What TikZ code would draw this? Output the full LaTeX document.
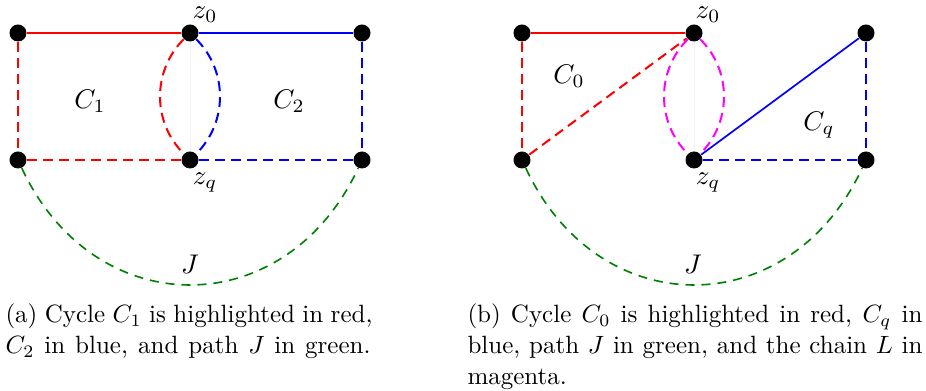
\RequirePackage{fix-cm}
\documentclass[tikz,border=0pt]{standalone}
\definecolor{chainmag}{RGB}{255,0,255}
\begin{document}
\begin{tikzpicture}[x=0.4pt,y=-0.4pt,
  dot/.style={circle,fill=black,inner sep=0pt,minimum size=6.8pt},
  lbl/.style={inner sep=0pt,font=\fontsize{10.8}{13}\selectfont},
  captext/.style={inner sep=0pt,anchor=base west,font=\fontsize{10}{12.4}\selectfont},
  dsh/.style={dash pattern=on 4pt off 2.4pt},
  gdsh/.style={dash pattern=on 3.6pt off 2.8pt},
  jarc/.style={green!50!black,gdsh,line width=0.65pt,out=-65,in=-115,looseness=1.31},
  faint/.style={draw=black!5,line width=0.4pt}]
\useasboundingbox (0,0) rectangle (926,391);
% ---------- left figure ----------
\node[dot] (la) at (18,33) {};
\node[dot] (lz0) at (190,33) {};
\node[dot] (lb) at (362,33) {};
\node[dot] (ld) at (18,160) {};
\node[dot] (lzq) at (190,160) {};
\node[dot] (le) at (362,160) {};
\draw[faint] (lz0) -- (lzq);
\draw[red,line width=0.6pt] (la) -- (lz0);
\draw[blue,line width=0.6pt] (lz0) -- (lb);
\draw[red,dsh,line width=0.8pt] (la) -- (ld);
\draw[red,dsh,line width=0.85pt] (ld) -- (lzq);
\draw[blue,dsh,line width=0.85pt] (lzq) -- (le);
\draw[blue,dsh,line width=0.8pt] (lb) -- (le);
\draw[red,dsh,line width=0.8pt] (lz0) to[bend right=45] (lzq);
\draw[blue,dsh,line width=0.8pt] (lz0) to[bend left=45] (lzq);
\draw[jarc] (ld) to (le);
\node[lbl] (lz0t) at (205,14.5) {$z_0$};
\node[lbl] (lzqt) at (205,183) {$z_q$};
\node[lbl] (lc1) at (90,101) {$C_1$};
\node[lbl] (lc2) at (289,101) {$C_2$};
\node[lbl] (lj) at (190,264) {$J$};
% ---------- right figure ----------
\node[dot] (ra) at (522,33) {};
\node[dot] (rz0) at (694,33) {};
\node[dot] (rb) at (866,33) {};
\node[dot] (rd) at (522,160) {};
\node[dot] (rzq) at (694,160) {};
\node[dot] (re) at (866,160) {};
\draw[faint] (rz0) -- (rzq);
\draw[red,line width=0.6pt] (ra) -- (rz0);
\draw[red,dsh,line width=0.55pt] (ra) -- (rd);
\draw[red,dsh,line width=0.8pt] (rd) -- (rz0);
\draw[blue,line width=0.68pt] (rzq) -- (rb);
\draw[blue,dsh,line width=0.52pt] (rb) -- (re);
\draw[blue,dsh,line width=1.1pt] (rzq) -- (re);
\draw[chainmag,dsh,line width=0.8pt] (rz0) to[bend right=45] (rzq);
\draw[chainmag,dsh,line width=0.8pt] (rz0) to[bend left=45] (rzq);
\draw[jarc] (rd) to (re);
\node[lbl] (rz0t) at (708,14.5) {$z_0$};
\node[lbl] (rzqt) at (708,183) {$z_q$};
\node[lbl] (rc0) at (569,76) {$C_0$};
\node[lbl] (rcq) at (819,125) {$C_q$};
\node[lbl] (rj) at (693,264) {$J$};
% ---------- captions ----------
\node[captext] (capa1) at (5,323) {\makebox[146.8pt][s]{(a) Cycle $C_1$ is highlighted in red,}};
\node[captext] (capa2) at (5,354) {\makebox[146pt][s]{$C_2$ in blue, and path $J$ in green.}};
\node[captext] (capb1) at (467,323) {\makebox[182pt][s]{(b) Cycle $C_0$ is highlighted in red, $C_q$ in}};
\node[captext] (capb2) at (467,354) {\makebox[182pt][s]{blue, path $J$ in green, and the chain $L$ in}};
\node[captext] (capb3) at (467,385) {magenta.};
\end{tikzpicture}
\end{document}
